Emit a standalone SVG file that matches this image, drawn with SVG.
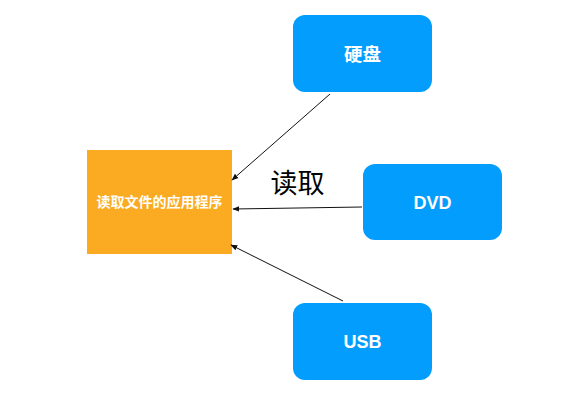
<svg xmlns="http://www.w3.org/2000/svg" width="588" height="402" viewBox="0 0 588 402">
<defs>
<style>
.src{fill:#039DFD;}
.lbl{fill:#fff;font-family:"Liberation Sans","Noto Sans CJK SC",sans-serif;font-weight:bold;text-anchor:middle;dominant-baseline:central;}
.edge{stroke:#111;stroke-width:1;fill:none;marker-end:url(#ah);}
</style>
<marker id="ah" viewBox="0 0 10 10" refX="9" refY="5" markerWidth="7" markerHeight="7" orient="auto" markerUnits="userSpaceOnUse">
<path d="M0,1 L10,5 L0,9 Z" fill="#111"/>
</marker>
</defs>
<rect width="588" height="402" fill="#fff"/>
<g id="app">
<rect x="87" y="150" width="145" height="104" fill="#FBAB21"/>
<text class="lbl" x="159.5" y="202" font-size="14">读取文件的应用程序</text>
</g>
<g id="hdd">
<rect class="src" x="293" y="15" width="139" height="77" rx="12"/>
<text class="lbl" x="362.5" y="54" font-size="18.5">硬盘</text>
</g>
<g id="dvd">
<rect class="src" x="363" y="164" width="139" height="76" rx="12"/>
<text class="lbl" x="432.5" y="203" font-size="18">DVD</text>
</g>
<g id="usb">
<rect class="src" x="293" y="303" width="139" height="77" rx="12"/>
<text class="lbl" x="362.5" y="342" font-size="18">USB</text>
</g>
<g id="edges">
<line class="edge" x1="330" y1="94" x2="232" y2="180"/>
<line class="edge" x1="362" y1="207" x2="233" y2="209"/>
<line class="edge" x1="343" y1="301" x2="231" y2="245"/>
</g>
<text x="297.5" y="181" font-size="27" font-family="'Noto Sans CJK SC',sans-serif" text-anchor="middle" dominant-baseline="central" fill="#000">读取</text>
</svg>
